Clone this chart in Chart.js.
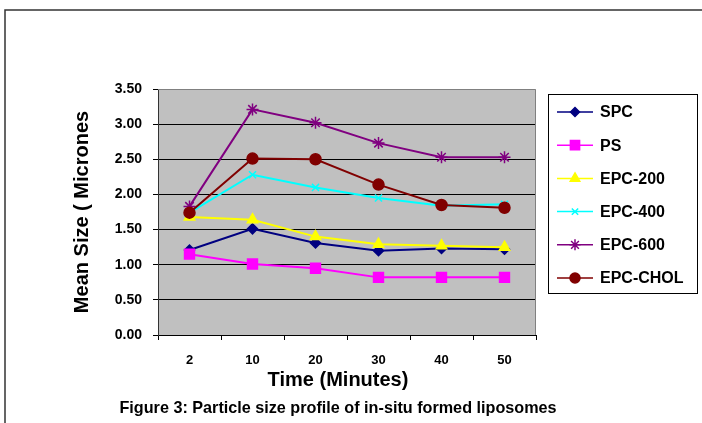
<!DOCTYPE html>
<html>
<head>
<meta charset="utf-8">
<script src="https://cdn.jsdelivr.net/npm/chart.js@4.4.1/dist/chart.umd.min.js"></script>
<style>
  html, body { margin: 0; padding: 0; background: #fff; }
  #wrap { position: relative; width: 702px; height: 423px; }
</style>
</head>
<body>
<div id="wrap"><canvas id="grafico"></canvas></div>
<script>
// dados
const times = ['2', '10', '20', '30', '40', '50'];
const spc = [1.21, 1.51, 1.31, 1.20, 1.23, 1.22];
const ps = [1.15, 1.01, 0.95, 0.82, 0.82, 0.82];
const epc200 = [1.68, 1.64, 1.40, 1.29, 1.27, 1.25];
const epc400 = [1.74, 2.28, 2.10, 1.95, 1.84, 1.86];
const epc600 = [1.83, 3.21, 3.02, 2.73, 2.53, 2.53];
const epcChol = [1.74, 2.51, 2.50, 2.14, 1.85, 1.81];
const yTicks = [0, 0.5, 1, 1.5, 2, 2.5, 3, 3.5];
const xTitle = 'Time (Minutes)';
const caption = 'Figure 3: Particle size profile of in-situ formed liposomes';

const FONT = "'Liberation Sans', Arial, sans-serif";

const series = [
    { label: 'SPC', data: spc, color: '#000080', style: 'rectRot', radius: 5 },
    { label: 'PS', data: ps, color: '#ff00ff', style: 'rect', radius: 7 },
    { label: 'EPC-200', data: epc200, color: '#ffff00', style: 'triangle', radius: 6 },
    { label: 'EPC-400', data: epc400, color: '#00ffff', style: 'crossRot', radius: 5 },
    { label: 'EPC-600', data: epc600, color: '#800080', style: 'star', radius: 6 },
    { label: 'EPC-CHOL', data: epcChol, color: '#800000', style: 'circle', radius: 5.5 }
];

// fundo cinza, moldura externa, legenda e legenda da figura
const molduraPlugin = {
    id: 'moldura',
    beforeDraw(chart) {
        const { ctx, chartArea: a } = chart;
        ctx.save();
        ctx.fillStyle = '#c0c0c0';
        ctx.fillRect(a.left, a.top, a.right - a.left, a.bottom - a.top);
        ctx.strokeStyle = '#333';
        ctx.lineWidth = 1.5;
        ctx.beginPath();
        ctx.moveTo(5, 423);
        ctx.lineTo(5, 10);
        ctx.lineTo(702, 10);
        ctx.stroke();
        ctx.restore();
    },
    beforeDatasetsDraw(chart) {
        const { ctx, chartArea: a } = chart;
        ctx.save();
        ctx.strokeStyle = '#808080';
        ctx.lineWidth = 1;
        ctx.beginPath();
        ctx.moveTo(a.left, a.top + 0.5);
        ctx.lineTo(a.right - 0.5, a.top + 0.5);
        ctx.lineTo(a.right - 0.5, a.bottom);
        ctx.stroke();
        ctx.restore();
    },
    afterDraw(chart) {
        const ctx = chart.ctx;
        ctx.save();
        // caixa da legenda
        ctx.fillStyle = '#fff';
        ctx.fillRect(548, 94, 149, 199);
        ctx.strokeStyle = '#000';
        ctx.lineWidth = 1;
        ctx.strokeRect(548.5, 94.5, 149, 199);
        ctx.font = 'bold 16px ' + FONT;
        ctx.textBaseline = 'middle';
        ctx.textAlign = 'left';
        series.forEach((s, i) => {
            const y = 112 + i * 33.2;
            ctx.strokeStyle = s.color;
            ctx.lineWidth = 1.5;
            ctx.beginPath();
            ctx.moveTo(557, y);
            ctx.lineTo(593, y);
            ctx.stroke();
            ctx.fillStyle = s.color;
            ctx.lineWidth = 1.5;
            Chart.helpers.drawPoint(ctx, { pointStyle: s.style, radius: s.radius - 0.5, rotation: 0, borderWidth: 1.5 }, 575, y);
            ctx.fillStyle = '#000';
            ctx.fillText(s.label, 600, y + 1);
        });
        // titulo do eixo x (um pouco a esquerda do centro, como no original)
        ctx.fillStyle = '#000';
        ctx.textAlign = 'center';
        ctx.font = 'bold 20px ' + FONT;
        ctx.fillText(xTitle, 338, 380);
        // legenda da figura
        ctx.font = 'bold 16.2px ' + FONT;
        ctx.fillText(caption, 338, 409);
        ctx.restore();
    }
};

const ctx = document.getElementById('grafico').getContext('2d');
const myChart = new Chart(ctx, {
    type: 'line',
    data: {
        labels: times,
        datasets: series.map((s, i) => ({
            label: s.label,
            data: s.data,
            borderColor: s.color,
            backgroundColor: s.color,
            borderWidth: 2,
            pointStyle: s.style,
            pointRadius: s.radius,
            pointBorderWidth: 1.5,
            pointBorderColor: s.color,
            pointBackgroundColor: s.color,
            tension: 0,
            order: series.length - 1 - i
        }))
    },
    options: {
        responsive: true,
        maintainAspectRatio: false,
        animation: false,
        events: [],
        layout: { padding: { left: 70, top: 89, right: 166, bottom: 31 } },
        plugins: {
            legend: { display: false },
            tooltip: { enabled: false }
        },
        scales: {
            x: {
                offset: true,
                afterFit: s => { s.height = 57; },
                grid: { offset: true, drawOnChartArea: false, drawTicks: true, tickLength: 5, tickColor: '#000' },
                border: { color: '#000', width: 1 },
                ticks: { color: '#000', padding: 13, font: { family: FONT, size: 13, weight: 'bold' } },
                title: { display: false }
            },
            y: {
                min: 0,
                max: 3.5,
                afterFit: s => { s.width = 88; },
                afterBuildTicks: s => { s.ticks = yTicks.map(v => ({ value: v })); },
                grid: {
                    color: c => (c.tick && c.tick.value === 3.5) ? 'rgba(0,0,0,0)' : '#000',
                    tickColor: '#000',
                    tickLength: 5,
                    lineWidth: 1
                },
                border: { color: '#333', width: 1 },
                ticks: {
                    color: '#000',
                    padding: 11,
                    font: { family: FONT, size: 14, weight: 'bold' },
                    callback: v => Number(v).toFixed(2)
                },
                title: {
                    display: true,
                    text: 'Mean Size ( Micrones',
                    color: '#000',
                    padding: { top: 0, bottom: 0 },
                    font: { family: FONT, size: 20, weight: 'bold' }
                }
            }
        }
    },
    plugins: [molduraPlugin]
});
</script>
</body>
</html>
